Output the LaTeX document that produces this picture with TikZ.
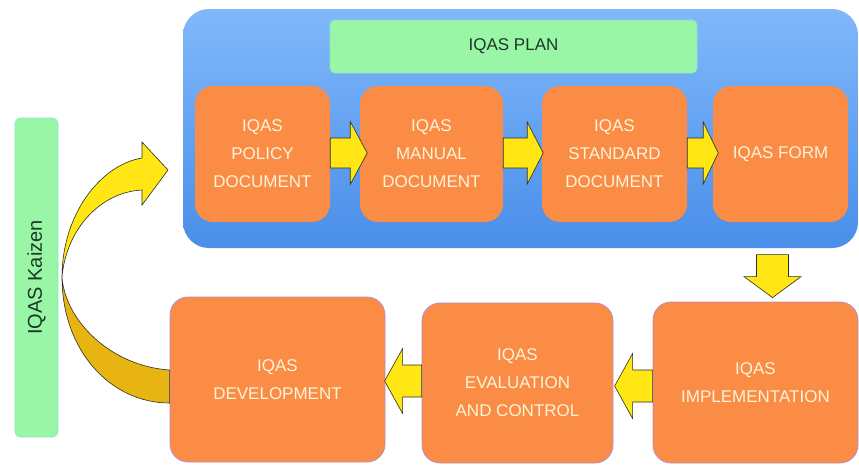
\documentclass[tikz,border=0pt]{standalone}
\usepackage{fontspec}
\setmainfont{Liberation Sans}
\usetikzlibrary{calc}

\definecolor{stageorange}{RGB}{250,140,70}
\definecolor{stagetext}{RGB}{255,244,216}
\definecolor{stageedge}{RGB}{184,140,200}
\definecolor{paneltop}{RGB}{128,184,250}
\definecolor{panelbottom}{RGB}{74,142,234}
\definecolor{barfill}{RGB}{152,246,166}
\definecolor{baredge}{RGB}{140,232,196}
\definecolor{bartext}{RGB}{30,56,40}
\definecolor{arrowfill}{RGB}{255,230,20}
\definecolor{arrowgold}{RGB}{232,180,18}
\definecolor{arrowline}{RGB}{40,48,30}

% block arrow: start point, direction angle, length, head length, shaft half-width, head half-width
\newcommand\blockarrow[6]{%
  \draw[flowarrow, shift={#1}, rotate=#2]
    (0,-#5) -- ({#3-#4},-#5) -- ({#3-#4},-#6) -- (#3,0) --
    ({#3-#4},#6) -- ({#3-#4},#5) -- (0,#5) -- cycle;}

\begin{document}
\begin{tikzpicture}[x=1pt,y=-1pt,
  stage/.style={fill=stageorange, rounded corners=18pt, text=stagetext,
    font=\fontsize{17}{28}\selectfont, align=center, inner sep=0pt},
  lowerstage/.style={stage, draw=stageedge, line width=0.8pt},
  container/.style={top color=paneltop, bottom color=panelbottom,
    rounded corners=26pt, inner sep=0pt},
  titlebar/.style={fill=barfill, draw=baredge, line width=0.8pt,
    rounded corners=5pt, text=bartext, inner sep=0pt},
  flowarrow/.style={fill=arrowfill, draw=arrowline, line width=0.6pt, line join=miter},
]
\useasboundingbox (0,0) rectangle (859,467);

% plan panel
\node[container, minimum width=675pt, minimum height=239pt] (panel) at (520.5,128.5) {};
\node[titlebar, minimum width=367pt, minimum height=53pt,
  font=\fontsize{17}{20}\selectfont] (plan) at (513.5,46.5) {IQAS PLAN};

% plan documents
\node[stage, minimum width=135pt, minimum height=136pt] (policy) at (262.5,154) {IQAS\\POLICY\\DOCUMENT};
\node[stage, minimum width=143pt, minimum height=136pt] (manual) at (431.5,154) {IQAS\\MANUAL\\DOCUMENT};
\node[stage, minimum width=145pt, minimum height=136pt] (standard) at (614.5,154) {IQAS\\STANDARD\\DOCUMENT};
\node[stage, minimum width=135pt, minimum height=136pt] (form) at (780.5,154) {IQAS FORM};

% execution stages
\node[lowerstage, minimum width=205pt, minimum height=161pt] (impl) at (755.5,382.5) {IQAS\\IMPLEMENTATION};
\node[lowerstage, minimum width=191pt, minimum height=160pt] (eval) at (517.5,383) {IQAS\\EVALUATION\\AND CONTROL};
\node[lowerstage, minimum width=215pt, minimum height=165pt] (dev) at (277.5,379.5) {IQAS\\DEVELOPMENT};

% kaizen bar
\node[titlebar, rotate=90, rounded corners=6pt, minimum width=319pt, minimum height=43pt,
  font=\fontsize{20}{24}\selectfont] (kaizen) at (36.5,277.5) {IQAS Kaizen};

% flow arrows
\blockarrow{($(policy.east)+(0,-1)$)}{0}{37}{17}{15}{31.5}
\blockarrow{($(manual.east)+(0,-1)$)}{0}{40}{16}{15}{31}
\blockarrow{($(standard.east)+(0,-1)$)}{0}{31}{15}{15}{31}
\blockarrow{($(impl.north)+(17,-47)$)}{-90}{43}{21}{16}{28.5}
\blockarrow{($(impl.west)+(0,3.5)$)}{180}{38}{18}{16}{32.5}
\blockarrow{($(eval.west)+(0,-2)$)}{180}{37}{18}{16}{32.5}

% kaizen loop arrow back to the plan
\coordinate (loopin) at ($(dev.west)+(0,-9.5)$);
\coordinate (loopout) at ($(dev.west)+(0,23.5)$);
\coordinate (twist) at (62,277);
\coordinate (looptip) at (168,170);
\draw[flowarrow, fill=arrowgold] (loopin) .. controls (110,366) and (65,320) .. (twist)
  .. controls (62,350) and (110,403) .. (loopout) -- cycle;
\draw[flowarrow] (twist) .. controls (62,215) and (100,165) .. (142,158)
  -- (142,142) -- (looptip) -- (142,205) -- (142,190)
  .. controls (100,192) and (66,230) .. (twist) -- cycle;
\end{tikzpicture}
\end{document}
